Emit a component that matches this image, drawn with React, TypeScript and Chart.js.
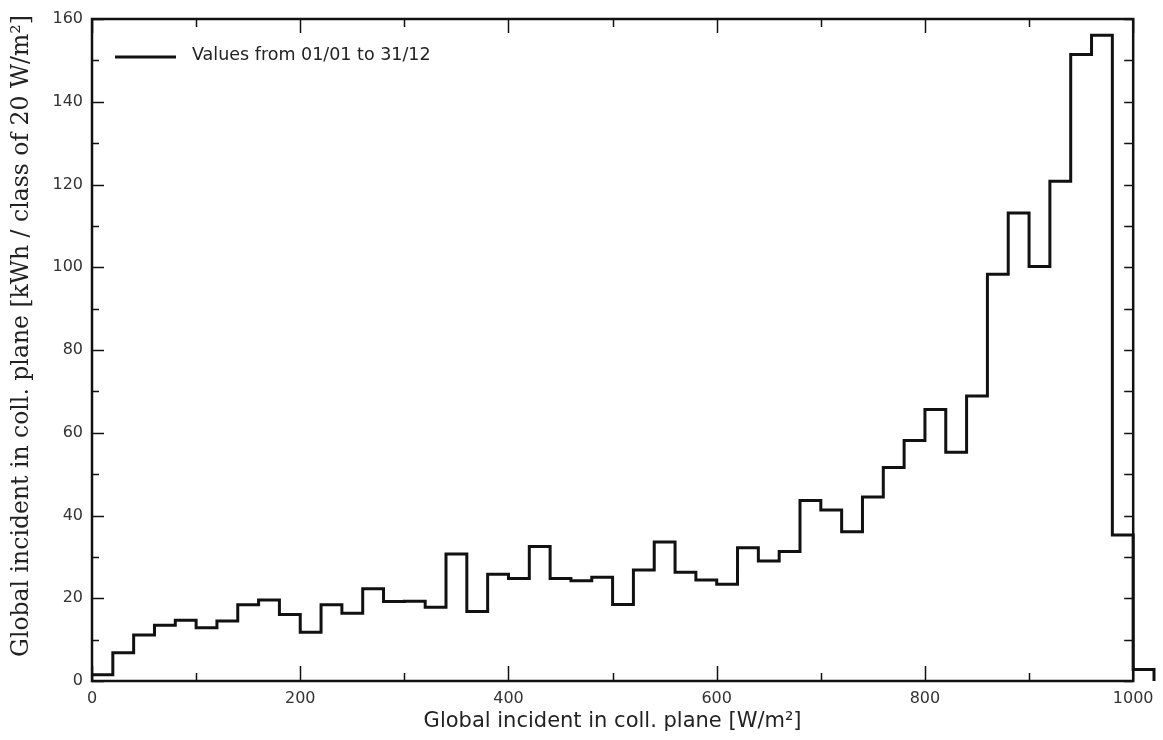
import { useEffect, useRef } from 'react';
import { Chart, registerables } from 'chart.js';

Chart.register(...registerables);

// Class (bin) starts in W/m², classes of 20 W/m²
const classStarts = [
  0, 20, 40, 60, 80, 100, 120, 140, 160, 180,
  200, 220, 240, 260, 280, 300, 320, 340, 360, 380,
  400, 420, 440, 460, 480, 500, 520, 540, 560, 580,
  600, 620, 640, 660, 680, 700, 720, 740, 760, 780,
  800, 820, 840, 860, 880, 900, 920, 940, 960, 980,
  1000,
];
const lastClassEnd = 1020;

// kWh per class
const classValues = [
  1.5, 6.8, 11.1, 13.5, 14.7, 12.9, 14.5, 18.4, 19.6, 16.1,
  11.8, 18.4, 16.4, 22.3, 19.2, 19.3, 17.8, 30.7, 16.8, 25.8,
  24.8, 32.5, 24.8, 24.2, 25.1, 18.5, 26.8, 33.6, 26.3, 24.4,
  23.4, 32.2, 29.0, 31.3, 43.6, 41.3, 36.1, 44.5, 51.6, 58.1,
  65.6, 55.3, 68.9, 98.3, 113.1, 100.2, 120.8, 151.4, 156.1, 35.3,
  2.8,
];

const xTickValues = [0, 200, 400, 600, 800, 1000];
const yTickValues = [0, 20, 40, 60, 80, 100, 120, 140, 160];
const xFrameMax = 1000;

const seriesLabel = 'Values from 01/01 to 31/12';
const xTitle = 'Global incident in coll. plane [W/m²]';
const yTitle = 'Global incident in coll. plane [kWh / class of 20 W/m²]';

const SANS = '"DejaVu Sans", Verdana, sans-serif';
const SERIF = '"DejaVu Serif", serif';

const framePlugin = {
  id: 'frameTicks',
  beforeDatasetsDraw(chart: any) {
    const { ctx, chartArea: a, scales } = chart;
    const xs = scales.x;
    const ys = scales.y;
    const right = xs.getPixelForValue(xFrameMax);
    ctx.save();
    ctx.strokeStyle = '#111';
    ctx.lineWidth = 1.5;
    ctx.beginPath();
    for (let v = 0; v <= 160; v += 10) {
      const py = Math.round(ys.getPixelForValue(v)) + 0.5;
      const major = v % 20 === 0;
      ctx.moveTo(a.left, py);
      ctx.lineTo(a.left + (major ? 12 : 7), py);
      ctx.moveTo(right, py);
      ctx.lineTo(right - 9, py);
    }
    for (let v = 0; v <= xFrameMax; v += 100) {
      const px = Math.round(xs.getPixelForValue(v)) + 0.5;
      const major = v % 200 === 0;
      ctx.moveTo(px, a.bottom);
      ctx.lineTo(px, a.bottom - (major ? 15 : 8));
      ctx.moveTo(px, a.top);
      ctx.lineTo(px, a.top + (major ? 14 : 8));
    }
    ctx.stroke();
    ctx.lineWidth = 2.5;
    ctx.strokeRect(a.left, a.top, right - a.left, a.bottom - a.top);
    ctx.restore();
  },
  afterDraw(chart: any) {
    const { ctx, chartArea: a, scales } = chart;
    const ds = chart.data.datasets[0];
    ctx.save();
    // legend
    ctx.strokeStyle = '#111';
    ctx.lineWidth = 3;
    ctx.beginPath();
    ctx.moveTo(a.left + 23, a.top + 38);
    ctx.lineTo(a.left + 84, a.top + 38);
    ctx.stroke();
    ctx.fillStyle = '#222';
    ctx.font = `17.5px ${SANS}`;
    ctx.textBaseline = 'middle';
    ctx.textAlign = 'left';
    ctx.fillText(ds.label, a.left + 100, a.top + 36);
    // x axis title, centred on the frame
    const right = scales.x.getPixelForValue(xFrameMax);
    ctx.font = `21px ${SANS}`;
    ctx.textAlign = 'center';
    ctx.fillText(xTitle, (a.left + right) / 2, 722);
    // y axis title
    ctx.translate(22, 336);
    ctx.rotate(-Math.PI / 2);
    ctx.font = `23.5px ${SERIF}`;
    ctx.fillText(yTitle, 0, 0);
    ctx.restore();
  },
};

export default function App() {
  const canvasRef = useRef<HTMLCanvasElement | null>(null);

  useEffect(() => {
    const canvas = canvasRef.current;
    if (!canvas) return;
    const points = classStarts.map((x, i) => ({ x, y: classValues[i] }));
    points.push({ x: lastClassEnd, y: 0 });

    const chart = new Chart(canvas, {
      type: 'line',
      data: {
        datasets: [
          {
            label: seriesLabel,
            data: points,
            stepped: 'before',
            borderColor: '#111',
            borderWidth: 3,
            pointRadius: 0,
            fill: false,
            clip: false as any,
          },
        ],
      },
      plugins: [framePlugin],
      options: {
        animation: false,
        responsive: false,
        maintainAspectRatio: false,
        layout: { padding: { top: 19, right: 9, left: 0, bottom: 0 } },
        plugins: {
          legend: { display: false },
          tooltip: { enabled: false },
        },
        scales: {
          x: {
            type: 'linear',
            min: 0,
            max: lastClassEnd,
            afterBuildTicks: (scale: any) => {
              scale.ticks = xTickValues.map((v) => ({ value: v }));
            },
            afterFit: (scale: any) => {
              scale.height = 59;
            },
            grid: { display: false, drawTicks: false },
            border: { display: false },
            ticks: {
              padding: 8,
              color: '#333',
              font: { family: SANS, size: 16 },
              maxRotation: 0,
              callback: (v: any) => String(v),
            },
            title: { display: false },
          },
          y: {
            type: 'linear',
            min: 0,
            max: 160,
            afterBuildTicks: (scale: any) => {
              scale.ticks = yTickValues.map((v) => ({ value: v }));
            },
            afterFit: (scale: any) => {
              scale.width = 92;
            },
            grid: { display: false, drawTicks: false },
            border: { display: false },
            ticks: {
              padding: 9,
              color: '#333',
              font: { family: SANS, size: 16 },
            },
            title: { display: false },
          },
        },
      },
    });
    return () => chart.destroy();
  }, []);

  return (
    <div style={{ position: 'fixed', left: 0, top: 0, width: 1163, height: 740, background: '#fff' }}>
      <canvas ref={canvasRef} width={1163} height={740} style={{ width: 1163, height: 740 }} />
    </div>
  );
}
